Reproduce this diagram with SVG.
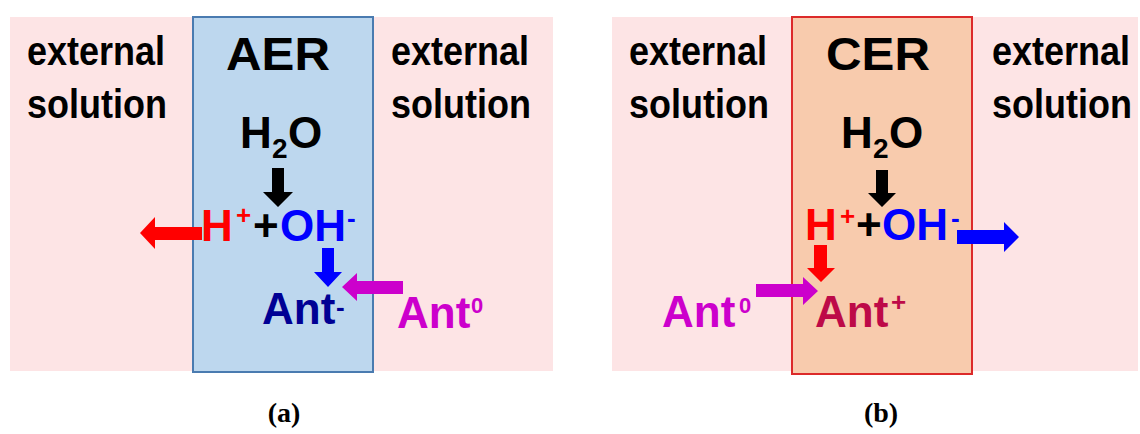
<svg xmlns="http://www.w3.org/2000/svg" width="1140" height="434" viewBox="0 0 1140 434">
<style>
.t{font-family:"Liberation Sans",Arial,sans-serif;font-weight:bold}
.lbl{font-size:36px;fill:#000}
.big{font-size:46px;fill:#000}
.chem{font-size:44px}
.sup{font-size:26px}
.sub{font-size:28px}
.cap{font-family:"Liberation Serif","Times New Roman",serif;font-weight:bold;font-size:28px;fill:#000}
.bg{fill:#fde4e5}
.aer{fill:#bdd7ee;stroke:#4a7bb0;stroke-width:2}
.cer{fill:#f8cbad;stroke:#dc2a2a;stroke-width:2}
.k{fill:#000}.r{fill:#ff0000}.b{fill:#0000ff}.n{fill:#000094}.m{fill:#cc00cc}.c{fill:#bd0a48}
</style>
<g id="panel-a">
<rect id="bg-a" class="bg" x="10" y="17" width="543" height="354"/>
<g id="aer"><rect class="aer" x="193" y="17" width="180" height="355"/>
<text class="t big" x="226" y="70" textLength="104" lengthAdjust="spacingAndGlyphs">AER</text></g>
<g id="ext-a-left"><g transform="translate(27,65) scale(1,1.14)"><text class="t lbl">external</text></g><g transform="translate(27,118) scale(1,1.14)"><text class="t lbl">solution</text></g></g>
<g id="ext-a-right"><g transform="translate(391,65) scale(1,1.14)"><text class="t lbl">external</text></g><g transform="translate(391,118) scale(1,1.14)"><text class="t lbl">solution</text></g></g>
<g id="h2o-a"><text class="t chem k" x="240" y="148">H</text><text class="t sub k" x="272" y="158">2</text><text class="t chem k" x="288" y="148">O</text></g>
<g id="react-a"><text class="t chem r" x="201" y="241">H</text><text class="t sup r" x="236" y="224">+</text><text class="t chem k" x="253" y="241">+</text><text class="t chem b" x="280" y="241">OH</text><text class="t sup b" x="347" y="227">-</text></g>
<g id="antm-a"><text class="t chem n" x="262" y="324">Ant</text><text class="t sup n" x="336" y="316">-</text></g>
<g id="ant0-a"><text class="t chem m" x="397" y="328">Ant</text><text class="t m" style="font-size:22px" x="471" y="313">0</text></g>
<text class="cap" x="284" y="422" text-anchor="middle">(a)</text>
</g>
<g id="panel-b">
<rect id="bg-b" class="bg" x="612" y="17" width="526" height="354"/>
<g id="cer"><rect class="cer" x="792" y="17" width="180" height="357"/>
<text class="t big" x="826" y="70" textLength="104" lengthAdjust="spacingAndGlyphs">CER</text></g>
<g id="ext-b-left"><g transform="translate(629,65) scale(1,1.14)"><text class="t lbl">external</text></g><g transform="translate(629,118) scale(1,1.14)"><text class="t lbl">solution</text></g></g>
<g id="ext-b-right"><g transform="translate(992,65) scale(1,1.14)"><text class="t lbl">external</text></g><g transform="translate(992,118) scale(1,1.14)"><text class="t lbl">solution</text></g></g>
<g id="h2o-b"><text class="t chem k" x="841" y="148">H</text><text class="t sub k" x="873" y="158">2</text><text class="t chem k" x="889" y="148">O</text></g>
<g id="react-b"><text class="t chem r" x="805" y="240">H</text><text class="t sup r" x="840" y="225">+</text><text class="t chem k" x="856" y="240">+</text><text class="t chem b" x="882" y="240">OH</text><text class="t sup b" x="951" y="227">-</text></g>
<g id="ant0-b"><text class="t chem m" x="662" y="327">Ant</text><text class="t m" style="font-size:22px" x="739" y="313">0</text></g>
<g id="antp-b"><text class="t chem c" x="815" y="327">Ant</text><text class="t c" style="font-size:26px" x="891" y="311">+</text></g>
<text class="cap" x="881" y="422" text-anchor="middle">(b)</text>
</g>
<g id="connectors">
<polygon class="k" points="272,168 284,168 284,192 293,192 278,207 263,192 272,192"/>
<polygon class="r" points="202,227 155,227 155,217 140,233 155,249 155,240 202,240"/>
<polygon class="b" points="322,248 334,248 334,272 342,272 328,287 314,272 322,272"/>
<polygon class="m" points="403,281 357,281 357,273 342,287 357,301 357,294 403,294"/>
<polygon class="k" points="876,170 888,170 888,193 896,193 882,207 868,193 876,193"/>
<polygon class="b" points="957,230 1004,230 1004,222 1019,237 1004,252 1004,244 957,244"/>
<polygon class="r" points="814,245 827,245 827,268 835,268 821,282 807,268 814,268"/>
<polygon class="m" points="756,284 803,284 803,277 818,291 803,305 803,297 756,297"/>
</g>
</svg>
